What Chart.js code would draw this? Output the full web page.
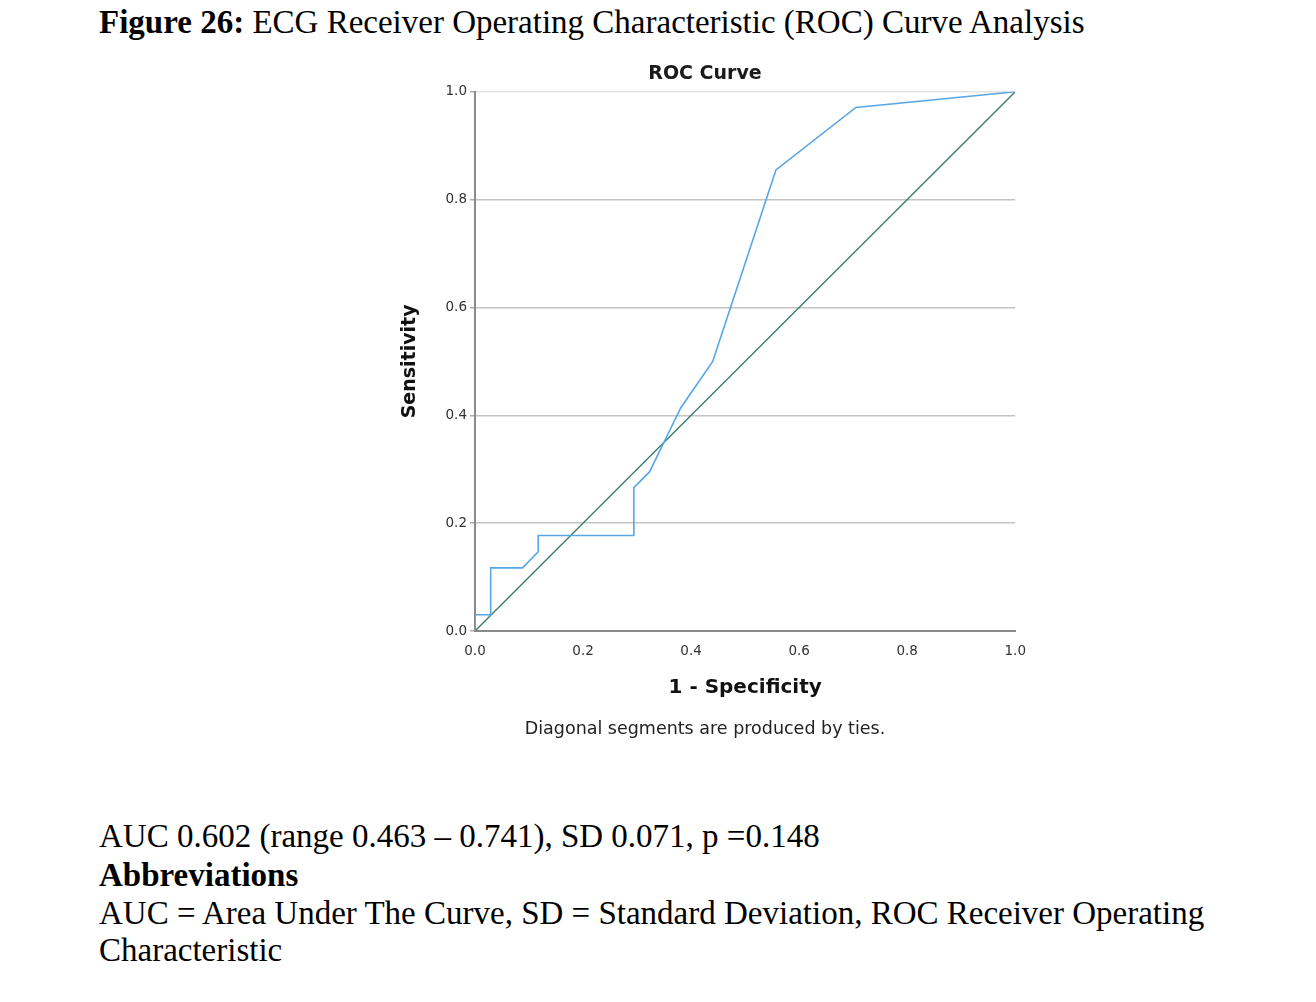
<!DOCTYPE html>
<html>
<head>
<meta charset="utf-8">
<script src="https://cdn.jsdelivr.net/npm/chart.js@4.4.1/dist/chart.umd.min.js"></script>
<style>
  body { margin: 0; background: #fff; width: 1316px; height: 1002px; position: relative; overflow: hidden; }
  .serif { font-family: "Liberation Serif", "Times New Roman", serif; font-size: 33px; line-height: 38px; color: #000; position: absolute; left: 99px; white-space: nowrap; }
  #wrap { position: absolute; left: 380px; top: 55px; width: 650px; height: 700px; }
</style>
</head>
<body>
<div class="serif" style="top: 3px;"><b>Figure 26:</b> ECG Receiver Operating Characteristic (ROC) Curve Analysis</div>
<div id="wrap"><canvas id="roc"></canvas></div>
<div class="serif" style="top: 817px;">AUC 0.602 (range 0.463 – 0.741), SD 0.071, p =0.148</div>
<div class="serif" style="top: 856px;"><b>Abbreviations</b></div>
<div class="serif" style="top: 894px;">AUC = Area Under The Curve, SD = Standard Deviation, ROC Receiver Operating</div>
<div class="serif" style="top: 931px;">Characteristic</div>
<script>
// valores (1 - especificidad, sensibilidad)
const fpr = [0.0, 0.0, 0.029, 0.029, 0.088, 0.117, 0.117, 0.294, 0.294, 0.323, 0.381, 0.44, 0.557, 0.705, 1.0];
const tpr = [0.0, 0.03, 0.03, 0.117, 0.117, 0.147, 0.177, 0.177, 0.266, 0.295, 0.414, 0.5, 0.855, 0.971, 1.0];
const refX = [0, 1];
const refY = [0, 1];
const ticks = [0, 0.2, 0.4, 0.6, 0.8, 1.0];

const tickFont = { family: 'DejaVu Sans', size: 13.5 };

new Chart(document.getElementById('roc'), {
    type: 'scatter',
    data: {
        datasets: [
            {
                label: 'ROC',
                data: fpr.map((x, i) => ({ x: x, y: tpr[i] })),
                showLine: true,
                borderColor: '#58a6e6',
                borderWidth: 1.6,
                pointRadius: 0,
                fill: false,
                tension: 0
            },
            {
                label: 'Reference',
                data: refX.map((x, i) => ({ x: x, y: refY[i] })),
                showLine: true,
                borderColor: '#3b7d6f',
                borderWidth: 1.4,
                pointRadius: 0,
                fill: false
            }
        ]
    },
    options: {
        responsive: true,
        maintainAspectRatio: false,
        animation: false,
        layout: { padding: { left: 0, right: 0, top: 0, bottom: 15.5 } },
        plugins: {
            legend: { display: false },
            tooltip: { enabled: false },
            title: {
                display: true,
                text: 'ROC Curve',
                color: '#1a1a1a',
                font: { family: 'DejaVu Sans', size: 19, weight: 'bold' },
                padding: { top: 7.5, bottom: 6.5 }
            },
            subtitle: {
                display: true,
                position: 'bottom',
                text: 'Diagonal segments are produced by ties.',
                color: '#222',
                font: { family: 'DejaVu Sans', size: 17.5 },
                padding: { top: 7.5, bottom: 0 }
            }
        },
        scales: {
            x: {
                type: 'linear',
                min: 0,
                max: 1,
                afterBuildTicks: s => { s.ticks = ticks.map(v => ({ value: v })); },
                afterFit: s => { s.height = 80; },
                grid: { display: false },
                border: { display: true, color: '#8a8a8a', width: 2 },
                ticks: {
                    color: '#333',
                    font: tickFont,
                    padding: 4,
                    maxRotation: 0,
                    callback: v => v.toFixed(1)
                },
                title: {
                    display: true,
                    text: '1 - Specificity',
                    color: '#111',
                    font: { family: 'DejaVu Sans', size: 20, weight: 'bold' },
                    padding: { top: 0, bottom: 11 }
                }
            },
            y: {
                type: 'linear',
                min: 0,
                max: 1,
                afterBuildTicks: s => { s.ticks = ticks.map(v => ({ value: v })); },
                afterFit: s => { s.width = 95; },
                grid: {
                    color: ctx => (ctx.tick && ctx.tick.value === 1 ? '#e2e2e2' : '#c4c4c4'),
                    lineWidth: 1.5,
                    tickLength: 5,
                    tickColor: '#aaa'
                },
                border: { display: true, color: '#8a8a8a', width: 2 },
                ticks: {
                    color: '#333',
                    font: tickFont,
                    padding: 3,
                    callback: v => v.toFixed(1)
                },
                title: {
                    display: true,
                    text: 'Sensitivity',
                    color: '#111',
                    font: { family: 'DejaVu Sans', size: 19, weight: 'bold' },
                    padding: { top: 19, bottom: 0 }
                }
            }
        }
    }
});
</script>
</body>
</html>
